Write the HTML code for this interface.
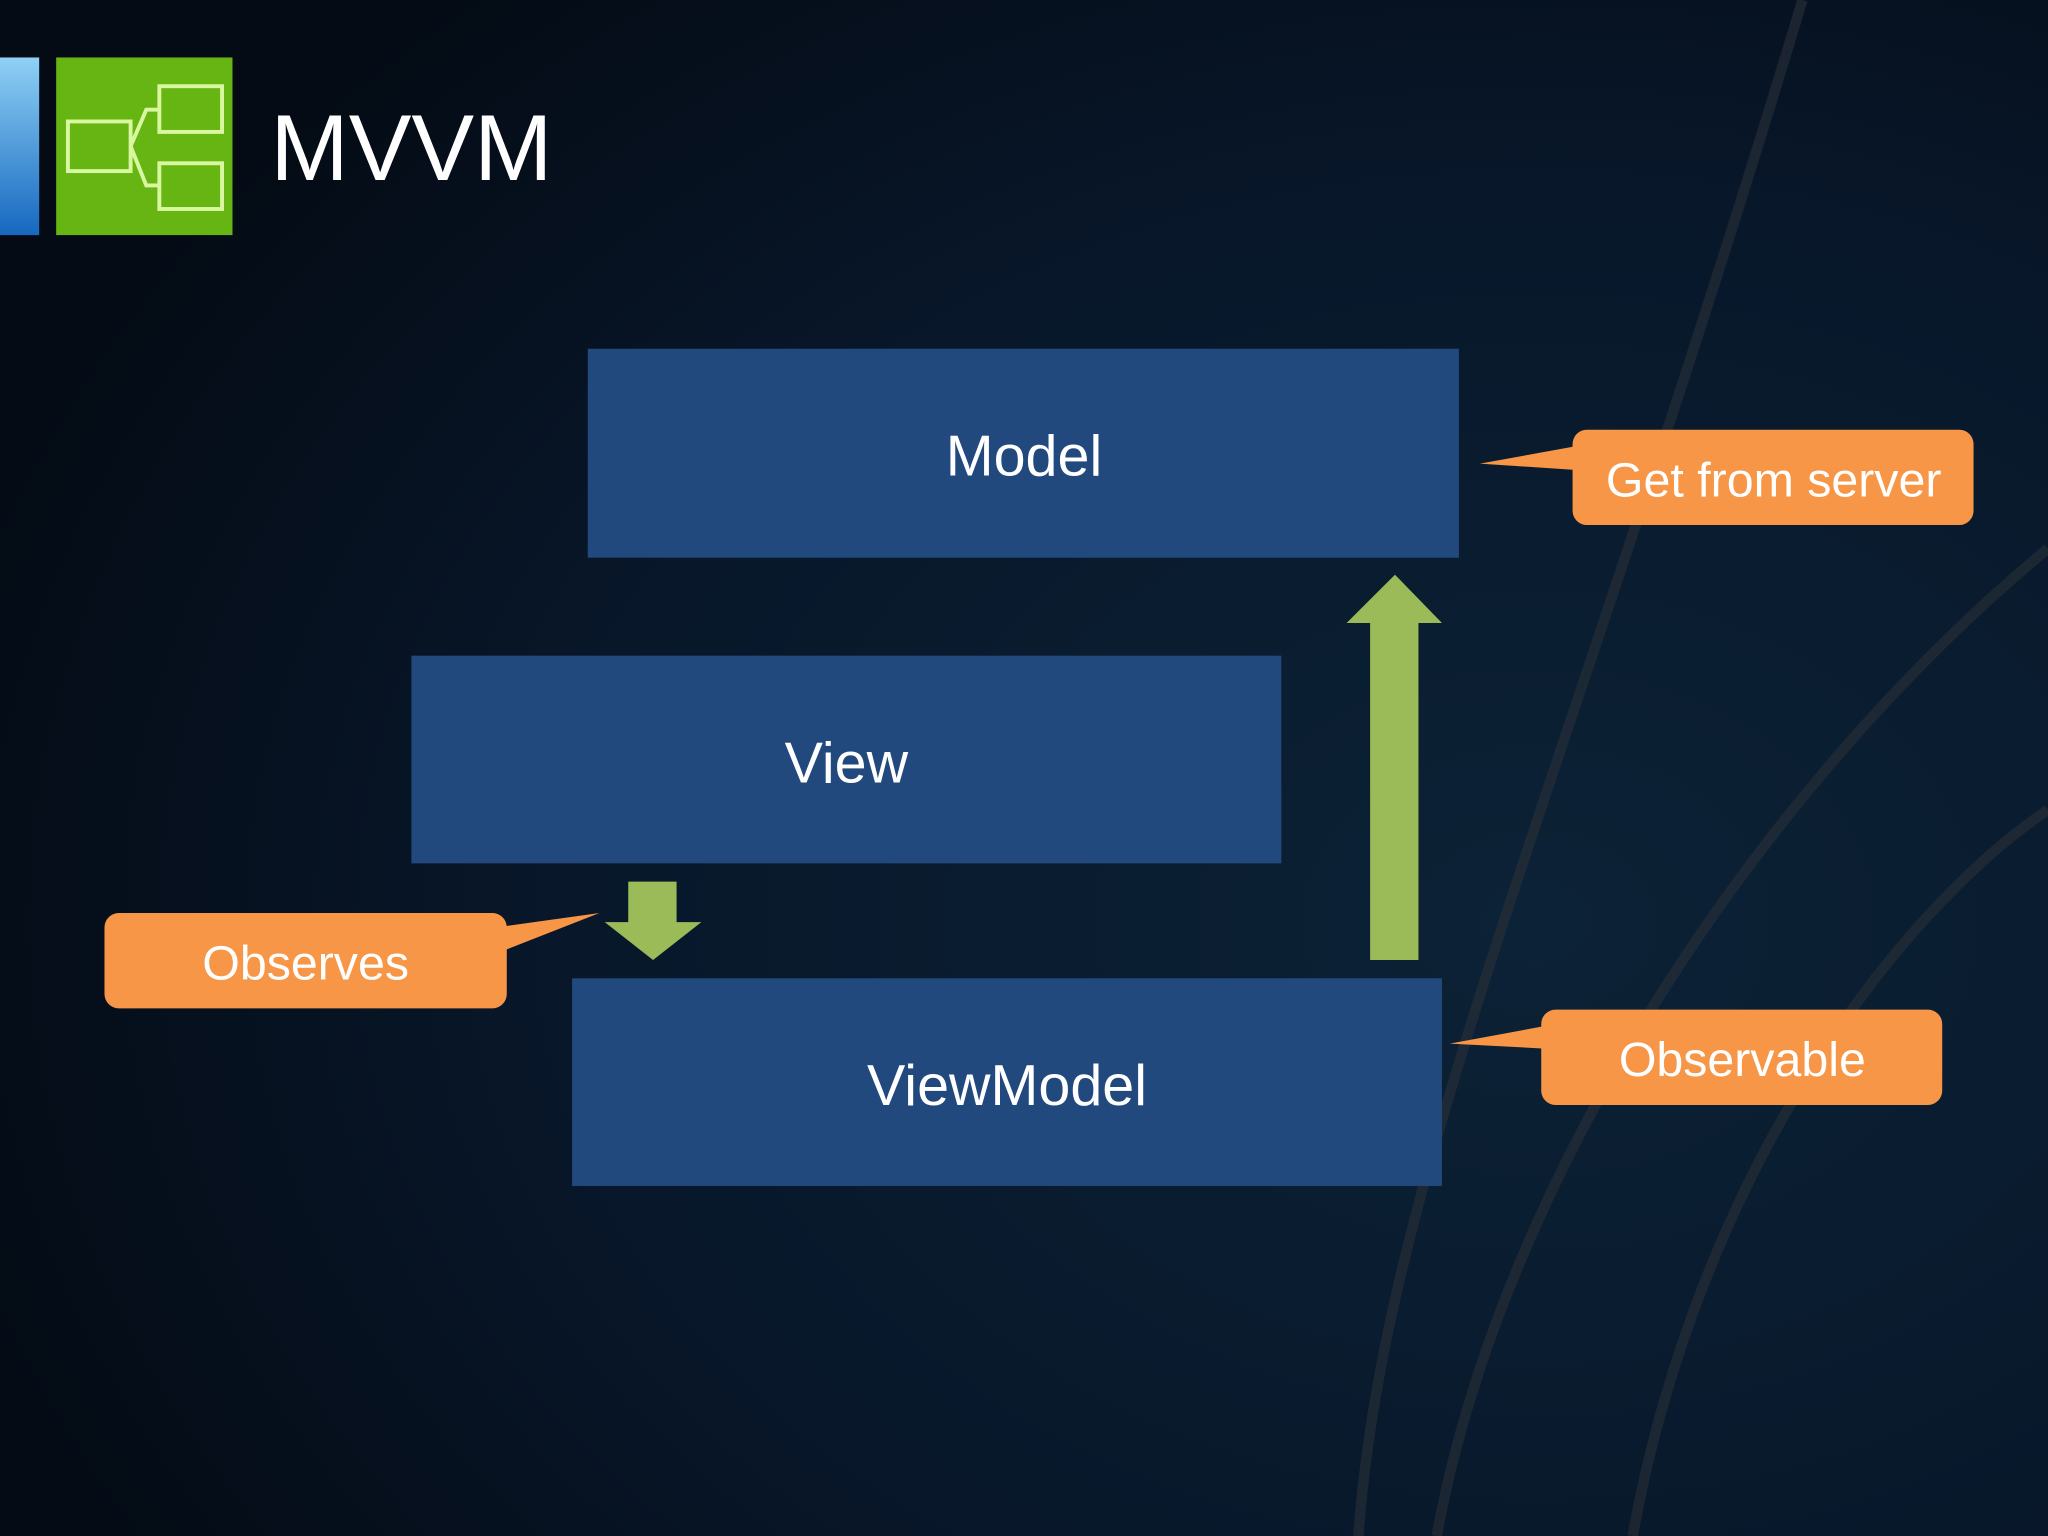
<!DOCTYPE html>
<html><head><meta charset="utf-8"><style>
html,body{margin:0;padding:0;width:2048px;height:1536px;overflow:hidden;background:#050d18}
svg{display:block}
text{font-family:"Liberation Sans",sans-serif;fill:#fff}
</style></head><body>
<svg width="2048" height="1536" viewBox="0 0 1568 1176" xmlns="http://www.w3.org/2000/svg">
<defs>
<radialGradient id="bg" cx="0.75" cy="0.6" r="0.8">
<stop offset="0" stop-color="#0c2236"/><stop offset="0.6" stop-color="#08172a"/><stop offset="1" stop-color="#040b15"/>
</radialGradient>
<linearGradient id="bar" x1="0" y1="0" x2="0" y2="1">
<stop offset="0" stop-color="#8fd0f5"/><stop offset="1" stop-color="#1668c0"/>
</linearGradient>
</defs>
<rect width="1568" height="1176" fill="url(#bg)"/>
<g fill="none" stroke="#2a3038" stroke-width="8" opacity="0.6">
<path d="M1040 1176 C1060 900 1200 600 1380 0"/>
<path d="M1100 1176 C1150 900 1350 600 1568 420"/>
<path d="M1250 1176 C1300 900 1450 700 1568 620"/>
</g>
<rect x="0" y="44" width="30" height="136" fill="url(#bar)"/>
<rect x="43" y="44" width="135" height="136" fill="#66b512"/>
<g fill="none" stroke="#d9f7a0" stroke-width="3">
<rect x="52" y="93" width="48" height="38"/>
<rect x="122" y="66" width="48" height="35"/>
<rect x="122" y="125" width="48" height="35"/>
<path d="M100 112 L112 84 L122 84 M100 112 L112 142 L122 142"/>
</g>
<text x="207" y="138" font-size="72">MVVM</text>
<rect x="450" y="267" width="667" height="160" fill="#22497d"/>
<text x="784" y="364" font-size="44" text-anchor="middle">Model</text>
<rect x="315" y="502" width="666" height="159" fill="#22497d"/>
<text x="648" y="599" font-size="44" text-anchor="middle">View</text>
<rect x="438" y="749" width="666" height="159" fill="#22497d"/>
<text x="771" y="846" font-size="44" text-anchor="middle">ViewModel</text>
<polygon fill="#9bbb59" points="1049,735 1086,735 1086,477 1104,477 1068,440 1031,477 1049,477"/>
<polygon fill="#9bbb59" points="481,675 518,675 518,706 537,706 500,735 463,706 481,706"/>
<g fill="#f79646">
<rect x="1204" y="329" width="307" height="73" rx="11"/>
<polygon points="1210,341 1133,355 1210,360"/>
<rect x="80" y="699" width="308" height="73" rx="11"/>
<polygon points="380,710 459,699 385,728"/>
<rect x="1180" y="773" width="307" height="73" rx="11"/>
<polygon points="1186,785 1110,799 1186,803"/>
</g>
<text x="1358" y="380" font-size="37" text-anchor="middle">Get from server</text>
<text x="234" y="750" font-size="37" text-anchor="middle">Observes</text>
<text x="1334" y="824" font-size="37" text-anchor="middle">Observable</text>
</svg>
</body></html>
